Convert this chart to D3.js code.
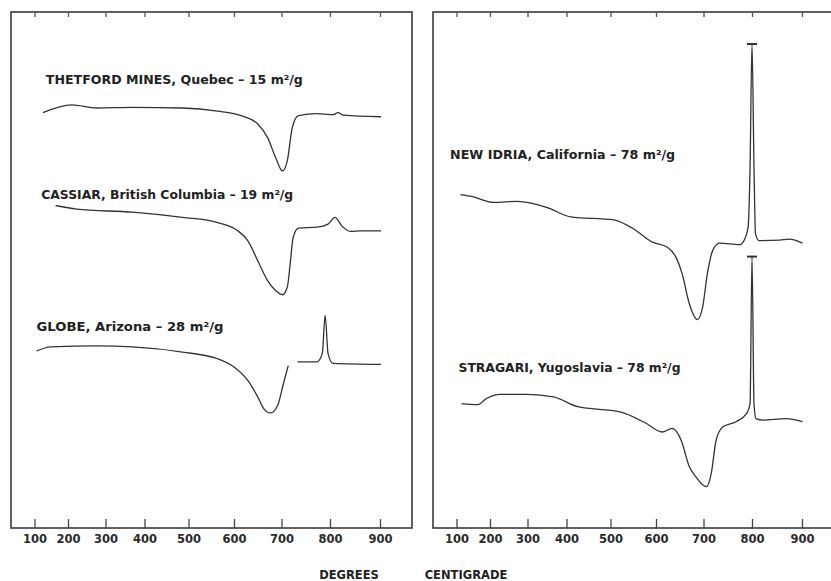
<!DOCTYPE html>
<html><head><meta charset="utf-8">
<script src="https://cdn.jsdelivr.net/npm/d3@7"></script>
<style>body{margin:0;background:#fff}</style>
</head><body>
<svg id="c" width="831" height="581"></svg>
<script>
// ---------------- DATA ----------------
const tickTemps = [100, 200, 300, 400, 500, 600, 700, 800, 900];

// Thetford Mines, Quebec
const thetfordT = [125, 210, 276, 369, 486, 564, 615, 650, 671, 688, 702, 712, 722, 735, 773, 806, 816, 827, 902];
const thetfordV = [80.5, 82.0, 81.4, 81.5, 81.4, 80.8, 79.9, 78.3, 75.6, 71.7, 69.2, 71.2, 77.5, 79.9, 80.3, 80.1, 80.5, 80.0, 79.7];

// Cassiar, British Columbia
const cassiarT = [163, 223, 369, 486, 564, 608, 629, 650, 671, 688, 702, 712, 718, 724, 735, 773, 796, 810, 824, 841, 861, 902];
const cassiarV = [62.5, 61.8, 61.2, 60.2, 59.2, 57.6, 55.7, 51.8, 47.9, 46.0, 45.2, 46.7, 51.3, 56.3, 58.1, 58.3, 58.9, 60.2, 58.5, 57.5, 57.6, 57.6];

// Globe, Arizona (trace is broken between ~714 and ~733 C)
const globeT = [106, 149, 276, 369, 486, 564, 600, 629, 650, 663, 677, 692, 704, 714, 724, 733, 773, 784, 790, 796, 806, 902];
const globeV = [34.3, 35.1, 35.3, 35.1, 34.1, 32.8, 31.2, 28.6, 25.4, 23.1, 22.3, 23.8, 28.0, 31.5, null, 32.2, 32.2, 33.8, 41.2, 33.8, 31.9, 31.7];

// New Idria, California
const newIdriaT = [112, 148, 209, 272, 351, 409, 507, 550, 592, 624, 642, 655, 670, 687, 698, 708, 719, 733, 775, 785, 792, 796, 800, 804, 807, 814, 855, 875, 901];
const newIdriaV = [64.6, 64.2, 63.1, 63.3, 62.1, 60.3, 59.7, 58.0, 55.4, 54.4, 52.5, 49.3, 43.5, 40.4, 42.7, 49.3, 53.8, 55.2, 54.9, 56.0, 58.3, 69.9, 93.8, 69.9, 57.0, 55.7, 55.8, 56.0, 55.2];

// Stragari, Yugoslavia
const stragariT = [115, 163, 190, 227, 299, 367, 425, 521, 578, 613, 634, 653, 670, 684, 706, 716, 726, 740, 767, 789, 796, 800, 804, 808, 822, 868, 901];
const stragariV = [24.1, 23.9, 25.1, 25.9, 25.9, 25.4, 23.5, 22.5, 20.3, 18.6, 19.3, 17.0, 11.9, 9.9, 8.0, 10.6, 17.0, 19.6, 20.6, 22.2, 24.1, 52.6, 24.1, 21.2, 20.9, 21.2, 20.6];

const labels = [
  "THETFORD MINES, Quebec \u2013 15 m\u00b2/g",
  "CASSIAR, British Columbia \u2013 19 m\u00b2/g",
  "GLOBE, Arizona \u2013 28 m\u00b2/g",
  "NEW IDRIA, California \u2013 78 m\u00b2/g",
  "STRAGARI, Yugoslavia \u2013 78 m\u00b2/g"
];
const axisTitle = ["DEGREES", "CENTIGRADE"];

// ---------------- LAYOUT ----------------
const W = 831, H = 581;
const panels = [{x0: 11, w: 401}, {x0: 433, w: 401}];
const topY = 12, bottomY = 528;
// nonlinear (thermocouple) temperature scale: pixel offsets of each tick from panel left
const tickOffsets = [23.5, 57, 94.5, 133.5, 177.5, 223, 270.5, 319, 369];

const series = [
  {p: 0, T: thetfordT, V: thetfordV, label: labels[0], lt: 134, lv: 86.8, lw: 257, cap: false},
  {p: 0, T: cassiarT, V: cassiarV, label: labels[1], lt: 120, lv: 64.4, lw: 252, cap: false},
  {p: 0, T: globeT, V: globeV, label: labels[2], lt: 106, lv: 38.9, lw: 187, cap: false},
  {p: 1, T: newIdriaT, V: newIdriaV, label: labels[3], lt: 81, lv: 72.1, lw: 225, cap: true},
  {p: 1, T: stragariT, V: stragariV, label: labels[4], lt: 106, lv: 30.9, lw: 222, cap: true}
];

const svg = d3.select("#c");
svg.append("rect").attr("width", W).attr("height", H).attr("fill", "#fff");

const y = d3.scaleLinear().domain([0, 100]).range([bottomY, topY]);

const xs = panels.map(pn => d3.scaleLinear()
  .domain(tickTemps)
  .range(tickOffsets.map(o => pn.x0 + o)));

panels.forEach((pn, i) => {
  const x = xs[i];
  const g = svg.append("g");
  g.append("rect")
    .attr("x", pn.x0).attr("y", topY).attr("width", pn.w).attr("height", bottomY - topY)
    .attr("fill", "none").attr("stroke", "#3a3a3a").attr("stroke-width", 1.6);

  const ax = g.append("g").attr("transform", `translate(0,${bottomY})`)
    .call(d3.axisBottom(x).tickValues(tickTemps).tickSizeInner(-9).tickSizeOuter(0).tickPadding(7).tickFormat(d3.format("d")));
  ax.select(".domain").remove();
  ax.selectAll(".tick line").attr("stroke", "#444").attr("stroke-width", 1.3);
  ax.selectAll(".tick text").attr("fill", "#2a2a2a")
    .style("font-family", "'DejaVu Sans', sans-serif").style("font-weight", "bold").style("font-size", "11.5px");

  const at = g.append("g").attr("transform", `translate(0,${topY})`)
    .call(d3.axisTop(x).tickValues(tickTemps).tickSizeInner(-5).tickSizeOuter(0).tickFormat(""));
  at.select(".domain").remove();
  at.selectAll(".tick line").attr("stroke", "#555").attr("stroke-width", 1.3);
});

const line = d3.line()
  .defined(d => d[1] !== null)
  .curve(d3.curveMonotoneX);

series.forEach(s => {
  const x = xs[s.p];
  const pts = s.T.map((t, i) => [x(t), s.V[i] === null ? null : y(s.V[i])]);
  svg.append("path")
    .attr("d", line(pts))
    .attr("fill", "none").attr("stroke", "#333").attr("stroke-width", 1.3);
  if (s.cap) {
    const mi = d3.maxIndex(s.V);
    const cx = x(s.T[mi]), cy = y(s.V[mi]);
    svg.append("line").attr("x1", cx - 5).attr("x2", cx + 5).attr("y1", cy).attr("y2", cy)
      .attr("stroke", "#333").attr("stroke-width", 2);
  }
  svg.append("text")
    .attr("x", x(s.lt)).attr("y", y(s.lv))
    .attr("dominant-baseline", "middle")
    .attr("textLength", s.lw).attr("lengthAdjust", "spacingAndGlyphs")
    .attr("fill", "#222")
    .style("font-family", "'DejaVu Sans', sans-serif").style("font-weight", "bold").style("font-size", "12.5px")
    .text(s.label);
});

const titleStyle = sel => sel.attr("y", 575).attr("text-anchor", "middle").attr("dominant-baseline", "middle")
  .attr("fill", "#222").style("font-family", "'DejaVu Sans', sans-serif").style("font-weight", "bold").style("font-size", "11.5px");
svg.append("text").attr("x", 349).call(titleStyle).text(axisTitle[0]);
svg.append("text").attr("x", 466).call(titleStyle).text(axisTitle[1]);
</script>
</body></html>
